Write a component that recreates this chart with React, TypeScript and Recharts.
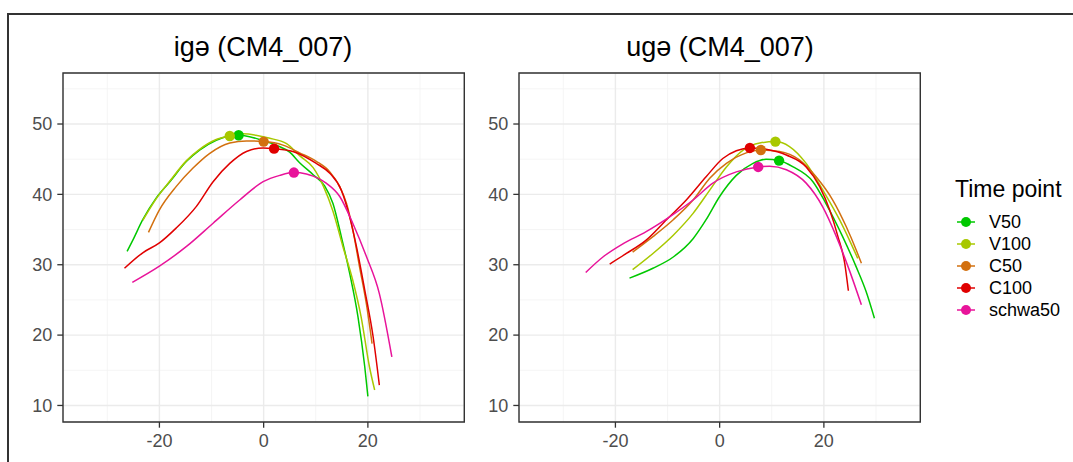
import React from "react";
import {
  ComposedChart,
  Line,
  Scatter,
  XAxis,
  YAxis,
  CartesianGrid,
  ReferenceArea,
} from "recharts";

const timePoints = ["V50", "V100", "C50", "C100", "schwa50"];
const colors = ["#00C800", "#A8C800", "#D2700F", "#E00000", "#E8149A"];

const xDomain = [-38.5, 38.5];
const yDomain = [7.65, 57.25];
const xTicks = [-20, 0, 20];
const yTicks = [10, 20, 30, 40, 50];
const xMinor = [-30, -10, 10, 30];
const yMinor = [15, 25, 35, 45, 55];

// igə panel
const igeV50 = [[-26.2, 31.9], [-25.1, 33.5], [-23.2, 36.4], [-20.6, 39.5], [-18.0, 41.8], [-14.8, 44.7], [-12.3, 46.3], [-9.1, 47.7], [-6.5, 48.3], [-4.8, 48.4], [-2.7, 48.2], [0, 47.6], [2.4, 47.0], [5.0, 46.0], [6.9, 44.5], [9.5, 42.8], [11.7, 41.2], [13.3, 38.7], [14.9, 34.0], [16.5, 28.8], [18.1, 22.6], [19.4, 15.5], [20.0, 11.3]];
const igeV100 = [[-23.2, 36.3], [-20.6, 39.4], [-18.0, 41.9], [-14.8, 44.8], [-12.3, 46.4], [-9.1, 47.8], [-6.5, 48.3], [-4.0, 48.6], [-1.5, 48.4], [1.0, 48.0], [4.4, 47.2], [6.9, 45.5], [9.5, 43.8], [11.5, 41.1], [13.3, 37.6], [15.2, 32.6], [17.1, 27.8], [18.7, 22.6], [20.3, 15.5], [21.3, 12.2]];
const igeC50 = [[-22.1, 34.6], [-20.0, 37.8], [-16.8, 41.1], [-13.6, 43.7], [-10.4, 45.8], [-6.5, 47.3], [-3.3, 47.6], [0, 47.5], [3.7, 47.0], [6.9, 45.9], [10.1, 44.7], [12.7, 43.2], [14.6, 41.1], [15.9, 38.7], [17.1, 35.0], [18.4, 29.7], [19.7, 24.5], [20.8, 18.8]];
const igeC100 = [[-26.7, 29.5], [-23.2, 31.7], [-20.0, 33.1], [-16.8, 35.2], [-12.9, 38.3], [-9.7, 41.8], [-6.5, 44.4], [-3.3, 46.1], [-0.1, 46.6], [2.0, 46.5], [5.6, 46.1], [10.1, 44.4], [12.7, 43.0], [14.9, 40.6], [16.5, 36.8], [17.8, 32.6], [19.4, 26.4], [21.0, 19.8], [22.2, 12.9]];
const igeSchwa50 = [[-25.2, 27.5], [-20.0, 29.8], [-14.8, 32.6], [-9.7, 35.9], [-4.6, 39.2], [-0.1, 41.8], [3.1, 42.7], [5.8, 43.1], [8.2, 42.9], [9.5, 42.6], [12.0, 41.6], [14.6, 39.7], [17.1, 35.9], [19.7, 31.2], [22.2, 25.9], [24.6, 16.9]];
const igeMarkers = [[-4.8, 48.4], [-6.5, 48.3], [0, 47.5], [2.0, 46.5], [5.8, 43.1]];

// ugə panel
const ugeV50 = [[-17.3, 28.1], [-12.8, 29.5], [-8.9, 31.1], [-5.1, 33.7], [-2.6, 36.4], [0, 39.7], [3.2, 42.7], [6.4, 44.4], [8.9, 45.0], [11.4, 44.8], [14.1, 43.9], [17.9, 41.8], [20.4, 38.7], [23.6, 34.0], [26.2, 29.7], [28.1, 26.2], [29.7, 22.4]];
const ugeV100 = [[-16.7, 29.3], [-12.8, 31.6], [-8.9, 34.2], [-5.1, 37.3], [-1.9, 40.6], [1.3, 43.9], [4.5, 46.3], [7.7, 47.3], [10.7, 47.5], [13.4, 46.8], [16.6, 44.4], [19.8, 40.6], [23.0, 36.4], [24.9, 33.5], [26.5, 30.9]];
const ugeC50 = [[-16.7, 31.8], [-12.8, 34.0], [-8.9, 36.4], [-5.1, 39.2], [-1.9, 42.3], [1.3, 44.4], [5.1, 45.9], [7.9, 46.3], [11.5, 46.1], [15.3, 44.9], [18.5, 42.5], [21.7, 39.2], [24.3, 35.4], [26.2, 32.1], [27.2, 30.2]];
const ugeC100 = [[-21.1, 30.1], [-17.9, 31.6], [-14.1, 33.5], [-10.2, 36.4], [-6.4, 39.2], [-2.6, 42.5], [0.6, 45.1], [3.2, 46.2], [5.8, 46.6], [8.9, 46.4], [12.8, 45.6], [16.6, 43.9], [19.2, 41.1], [21.1, 37.8], [22.7, 34.0], [24.0, 30.2], [24.7, 26.3]];
const ugeSchwa50 = [[-25.7, 28.9], [-22.4, 31.1], [-18.5, 33.0], [-14.1, 34.7], [-9.6, 36.8], [-5.1, 39.2], [-1.3, 41.6], [3.2, 43.2], [7.4, 43.9], [9.6, 44.0], [12.8, 43.5], [16.6, 41.6], [19.8, 38.2], [22.4, 34.0], [24.9, 29.2], [27.2, 24.3]];
const ugeMarkers = [[11.4, 44.8], [10.7, 47.5], [7.9, 46.3], [5.8, 46.6], [7.4, 43.9]];

const FONT = "'Liberation Sans', Arial, sans-serif";

const toXY = (pts: number[][]) => pts.map(([x, y]) => ({ x, y }));

function Panel({ curves, markers }: { curves: number[][][]; markers: number[][] }) {
  return (
    <ComposedChart width={470} height={462} margin={{ top: 73, right: 5.7, bottom: 0, left: 0 }}>
      <CartesianGrid verticalValues={xMinor} horizontalValues={yMinor} stroke="#F2F2F2" strokeWidth={0.8} />
      <CartesianGrid stroke="#EBEBEB" strokeWidth={1.4} />
      <XAxis
        type="number"
        dataKey="x"
        domain={xDomain}
        ticks={xTicks}
        allowDataOverflow
        height={40}
        tickSize={5.7}
        tickMargin={6.5}
        axisLine={false}
        tickLine={{ stroke: "#333333", strokeWidth: 1.3 }}
        tick={{ fontSize: 18, fill: "#4D4D4D" }}
      />
      <YAxis
        type="number"
        dataKey="y"
        domain={yDomain}
        ticks={yTicks}
        allowDataOverflow
        width={63}
        tickSize={5.7}
        tickMargin={5}
        axisLine={false}
        tickLine={{ stroke: "#333333", strokeWidth: 1.3 }}
        tick={{ fontSize: 18, fill: "#4D4D4D" }}
      />
      {curves.map((c, i) => (
        <Line
          key={timePoints[i]}
          data={toXY(c)}
          dataKey="y"
          type="monotone"
          stroke={colors[i]}
          strokeWidth={1.5}
          dot={false}
          activeDot={false}
          isAnimationActive={false}
        />
      ))}
      {markers.map((m, i) => (
        <Scatter
          key={timePoints[i] + "-pt"}
          data={toXY([m])}
          dataKey="y"
          fill={colors[i]}
          isAnimationActive={false}
          shape={(p: any) => <circle cx={p.cx} cy={p.cy} r={5.2} fill={colors[i]} />}
        />
      ))}
      <ReferenceArea
        x1={xDomain[0]}
        x2={xDomain[1]}
        y1={yDomain[0]}
        y2={yDomain[1]}
        fill="none"
        stroke="#333333"
        strokeWidth={1.4}
        ifOverflow="visible"
      />
    </ComposedChart>
  );
}

export default function App() {
  return (
    <div
      style={{
        position: "absolute",
        left: 0,
        top: 0,
        width: 1073,
        height: 462,
        background: "#ffffff",
        overflow: "hidden",
        fontFamily: FONT,
      }}
    >
      <div
        style={{
          position: "absolute",
          left: 7,
          top: 13,
          width: 1100,
          height: 500,
          borderTop: "2px solid #333333",
          borderLeft: "2px solid #333333",
        }}
      />
      <div style={{ position: "absolute", left: 0, top: 0 }}>
        <Panel curves={[igeV50, igeV100, igeC50, igeC100, igeSchwa50]} markers={igeMarkers} />
      </div>
      <div style={{ position: "absolute", left: 456, top: 0 }}>
        <Panel curves={[ugeV50, ugeV100, ugeC50, ugeC100, ugeSchwa50]} markers={ugeMarkers} />
      </div>
      <div
        style={{
          position: "absolute",
          left: 113,
          width: 300,
          top: 34,
          textAlign: "center",
          fontSize: 27,
          lineHeight: "27px",
          color: "#000",
        }}
      >
        igə (CM4_007)
      </div>
      <div
        style={{
          position: "absolute",
          left: 570,
          width: 300,
          top: 34,
          textAlign: "center",
          fontSize: 27,
          lineHeight: "27px",
          color: "#000",
        }}
      >
        ugə (CM4_007)
      </div>
      <div style={{ position: "absolute", left: 955, top: 178 }}>
        <div style={{ fontSize: 23, lineHeight: "23px", color: "#000", marginBottom: 10 }}>Time point</div>
        {timePoints.map((t, i) => (
          <div key={t} style={{ display: "flex", alignItems: "center", height: 22 }}>
            <svg width={22} height={22} style={{ display: "block" }}>
              <line x1={2} y1={11} x2={20} y2={11} stroke={colors[i]} strokeWidth={1.5} />
              <circle cx={11} cy={11} r={5} fill={colors[i]} />
            </svg>
            <span style={{ marginLeft: 12, fontSize: 18, lineHeight: "22px", color: "#000" }}>{t}</span>
          </div>
        ))}
      </div>
    </div>
  );
}
